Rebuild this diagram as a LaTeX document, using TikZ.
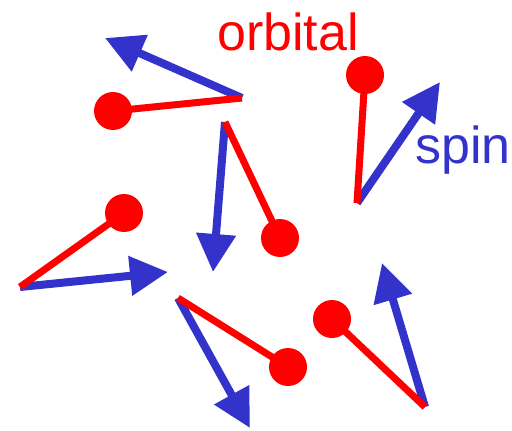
\documentclass[tikz,border=0pt]{standalone}
\usepackage{fontspec}
\setmainfont{Liberation Sans}
\usetikzlibrary{arrows.meta}
\definecolor{orbred}{RGB}{255,0,0}
\definecolor{spinblue}{RGB}{51,51,204}
\tikzset{
  orbline/.style={draw=orbred, line width=7pt},
  spinarrow/.style={draw=spinblue, line width=8pt, -{Triangle[length=38pt,width=38pt]}},
  dot/.style={circle, fill=orbred, minimum size=38pt, inner sep=0pt},
  lbl/.style={inner sep=0pt, anchor=base west, font=\fontsize{52}{62}\selectfont}
}
\begin{document}
\begin{tikzpicture}[x=1pt,y=-1pt]
\useasboundingbox (0,0) rectangle (512,431);
% origins
\coordinate (o1) at (242,98);
\coordinate (o2) at (225,122);
\coordinate (o3) at (357,203);
\coordinate (o4) at (20,287);
\coordinate (o5) at (178,298);
\coordinate (o6) at (425,407);
% spin tips
\coordinate (s1) at (105,38);
\coordinate (s2) at (213,272);
\coordinate (s3) at (440,82);
\coordinate (s4) at (168,272);
\coordinate (s5) at (250,428);
\coordinate (s6) at (382,263);
% orbital dots
\node[dot] (d1) at (113,111) {};
\node[dot] (d2) at (280,238) {};
\node[dot] (d3) at (365,75) {};
\node[dot] (d4) at (124,213) {};
\node[dot] (d5) at (288,367) {};
\node[dot] (d6) at (332,319) {};
% spin arrows
\foreach \i in {1,...,6} {
  \draw[spinarrow] (o\i) -- (s\i);
}
% orbital lines
\foreach \i in {1,...,6} {
  \draw[orbline] (o\i) -- (d\i.center);
}
% labels
\node[lbl, text=orbred] (orb) at (217,50) {orbital};
\node[lbl, text=spinblue] (spin) at (415,163) {spin};
\end{tikzpicture}
\end{document}
